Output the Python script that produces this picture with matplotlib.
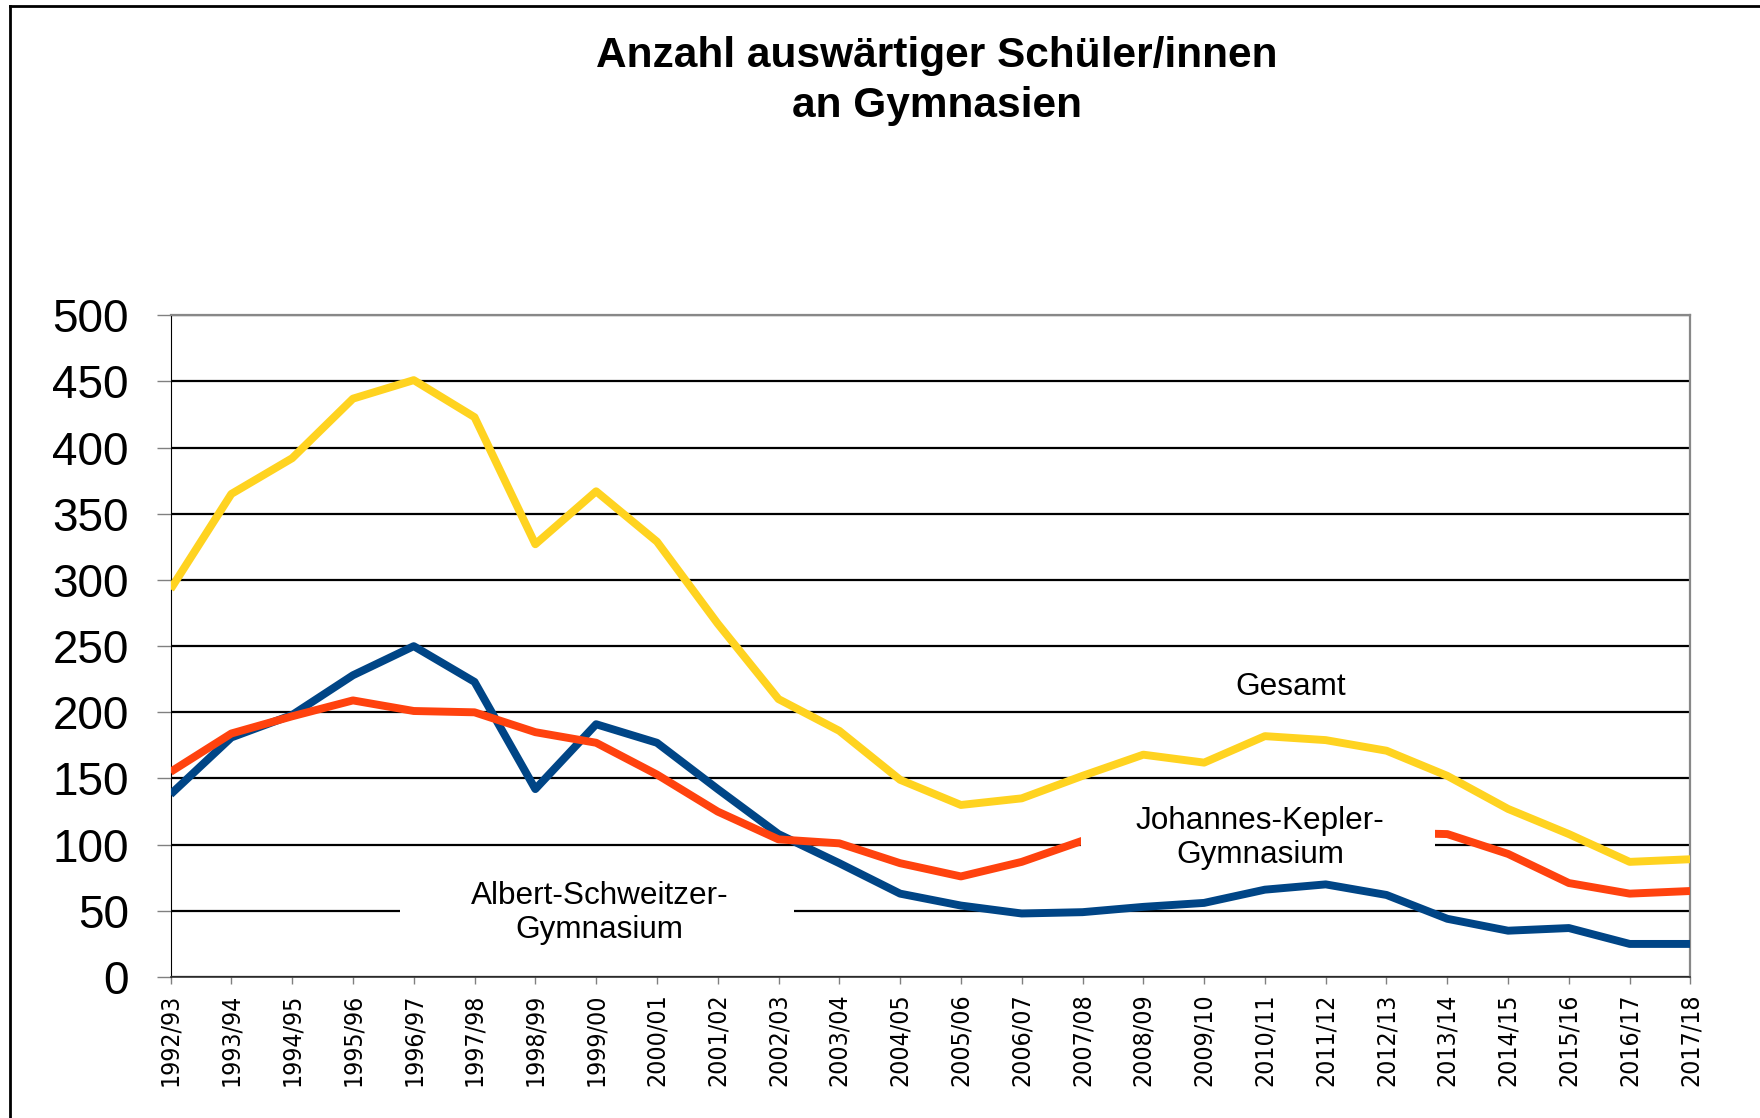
import matplotlib
matplotlib.use("Agg")
import matplotlib.pyplot as plt
from matplotlib.patches import Rectangle
from matplotlib.lines import Line2D

# school years on the x axis
years = ["1992/93", "1993/94", "1994/95", "1995/96", "1996/97", "1997/98",
         "1998/99", "1999/00", "2000/01", "2001/02", "2002/03", "2003/04",
         "2004/05", "2005/06", "2006/07", "2007/08", "2008/09", "2009/10",
         "2010/11", "2011/12", "2012/13", "2013/14", "2014/15", "2015/16",
         "2016/17", "2017/18"]

# values
gesamt = [293, 365, 392, 437, 451, 423, 327, 367, 329, 267, 210, 186, 149,
          130, 135, 152, 168, 162, 182, 179, 171, 152, 127, 108, 87, 89]
albert_schweitzer = [138, 181, 198, 228, 250, 223, 142, 191, 177, 142, 108, 86, 63,
                     54, 48, 49, 53, 56, 66, 70, 62, 44, 35, 37, 25, 25]
johannes_kepler = [155, 184, 197, 209, 201, 200, 185, 177, 153, 125, 104, 101, 86,
                   76, 87, 103, 115, 106, 116, 109, 109, 108, 93, 71, 63, 65]

BLUE = "#004586"
RED = "#ff420e"
YELLOW = "#ffd320"
SANS = "Liberation Sans"

fig = plt.figure(figsize=(17.6, 11.18), dpi=100)
ax = fig.add_axes([0.0969, 0.1261, 0.8636, 0.5919])

x = list(range(len(years)))
ax.plot(x, albert_schweitzer, color=BLUE, lw=5.7, zorder=3, solid_capstyle="butt")
ax.plot(x, johannes_kepler, color=RED, lw=5.7, zorder=3.1, solid_capstyle="butt")
ax.plot(x, gesamt, color=YELLOW, lw=5.7, zorder=3.2, solid_capstyle="butt")

ax.set_xlim(0, len(years) - 1)
ax.set_ylim(0, 500)
ax.set_yticks(range(0, 501, 50))
ax.set_xticks(x)
ax.set_xticklabels(years, rotation=90, fontfamily="DejaVu Sans",
                   fontsize=17.8, fontstretch="condensed")
for lab in ax.get_yticklabels():
    lab.set_fontfamily(SANS)
    lab.set_fontsize(33)
ax.tick_params(axis="y", length=10, width=1, color="#808080", pad=20)
ax.tick_params(axis="x", length=5, width=1, color="#808080", pad=7)

ax.yaxis.grid(True, color="black", lw=1.6)
ax.set_axisbelow(True)

ax.spines["left"].set_color("black")
ax.spines["left"].set_linewidth(0.8)
ax.spines["bottom"].set_color("#333333")
ax.spines["bottom"].set_linewidth(1.2)
for side in ("top", "right"):
    ax.spines[side].set_color("#888888")
    ax.spines[side].set_linewidth(1.6)

# series labels sitting on white boxes that hide lines behind them
ax.add_patch(Rectangle((3.77, 5), 6.48, 85, facecolor="white", edgecolor="none", zorder=4))
ax.add_patch(Rectangle((14.97, 76), 5.82, 67, facecolor="white", edgecolor="none", zorder=4))
ax.text(7.06, 48.5, "Albert-Schweitzer-\nGymnasium", ha="center", va="center",
        fontsize=22.7, family=SANS, zorder=5, linespacing=1.2)
ax.text(17.92, 105, "Johannes-Kepler-\nGymnasium", ha="center", va="center",
        fontsize=22.7, family=SANS, zorder=5, linespacing=1.18)
ax.text(18.42, 219.3, "Gesamt", ha="center", va="center",
        fontsize=22.7, family=SANS, zorder=5)

fig.text(937 / 1760, 1 - 81 / 1118, "Anzahl auswärtiger Schüler/innen\nan Gymnasien",
         ha="center", va="center", fontsize=30.5, fontweight="bold", family=SANS,
         linespacing=1.3)

# outer frame (only top and left edges are inside the picture)
fig.add_artist(Line2D([10 / 1760, 10 / 1760], [0, 1 - 5.7 / 1118], color="black", lw=2))
fig.add_artist(Line2D([10 / 1760, 1], [1 - 5.7 / 1118, 1 - 5.7 / 1118], color="black", lw=2))

fig.savefig("out.png", dpi=100)
